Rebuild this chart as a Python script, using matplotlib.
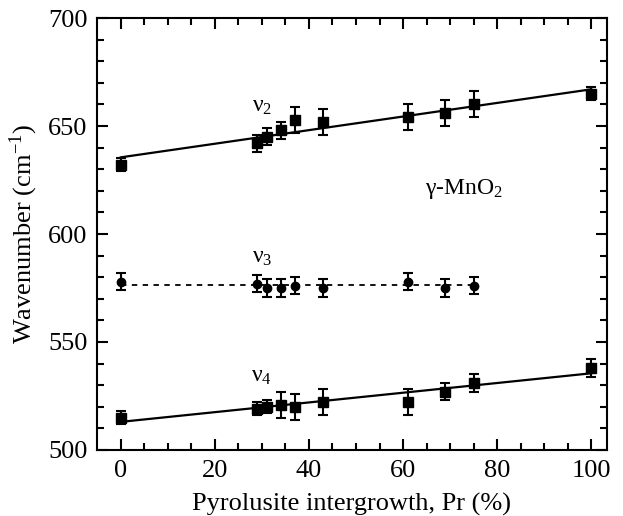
import matplotlib
matplotlib.use('Agg')
import matplotlib.pyplot as plt
import numpy as np

plt.rcParams['font.family'] = ['Liberation Serif', 'DejaVu Serif']
plt.rcParams['mathtext.fontset'] = 'stix'

# data
pr = [0, 29, 31, 34, 37, 43, 61, 69, 75, 100]
nu2 = [632, 642, 645, 648, 653, 652, 654, 656, 660, 665]
nu2_err = [3, 4, 4, 4, 6, 6, 6, 6, 6, 3]
pr3 = [0, 29, 31, 34, 37, 43, 61, 69, 75]
nu3 = [578, 577, 575, 575, 576, 575, 578, 575, 576]
nu3_err = [4, 4, 4, 4, 4, 4, 4, 4, 4]
nu4 = [515, 519, 520, 521, 520, 522, 522, 527, 531, 538]
nu4_err = [3, 3, 3, 6, 6, 6, 6, 4, 4, 4]

fit2 = (635.5, 667.0)
fit3 = 576.6
fit4 = (513.0, 535.5)

fig = plt.figure(figsize=(6.23, 5.16), dpi=100)
ax = fig.add_axes([0.156, 0.128, 0.818, 0.837])

eb = dict(fmt='none', ecolor='black', elinewidth=1.5, capsize=3.5, capthick=1.5)
ax.errorbar(pr, nu2, yerr=nu2_err, **eb)
ax.errorbar(pr3, nu3, yerr=nu3_err, **eb)
ax.errorbar(pr, nu4, yerr=nu4_err, **eb)
ax.plot(pr, nu2, 's', color='black', ms=6.5)
ax.plot(pr3, nu3, 'o', color='black', ms=6)
ax.plot(pr, nu4, 's', color='black', ms=6.5)

ax.plot([0, 100], fit2, '-', color='black', lw=1.6)
ax.plot([0, 75], [fit3, fit3], '--', color='black', lw=1.3, dashes=(3, 3))
ax.plot([0, 100], fit4, '-', color='black', lw=1.6)

ax.text(30, 659, r'$\mathregular{\nu_2}$', fontsize=17, ha='center', va='center')
ax.text(30, 589, r'$\mathregular{\nu_3}$', fontsize=17, ha='center', va='center')
ax.text(30, 534, r'$\mathregular{\nu_4}$', fontsize=17, ha='center', va='center')
ax.text(73, 621, r'$\mathregular{\gamma}$-MnO$\mathregular{_2}$', fontsize=17, ha='center', va='center')

ax.set_xlim(-5, 103.3)
ax.set_ylim(500, 700)
ax.set_xticks(np.arange(0, 101, 20))
ax.set_xticks(np.arange(0, 101, 5), minor=True)
ax.set_yticks(np.arange(500, 701, 50))
ax.set_yticks(np.arange(500, 701, 10), minor=True)
ax.tick_params(which='both', direction='in', top=True, right=True, width=1.5, labelsize=19)
ax.tick_params(which='major', length=8)
ax.tick_params(which='minor', length=5)
ax.tick_params(axis='x', pad=7)
ax.tick_params(axis='y', pad=7)
for s in ax.spines.values():
    s.set_linewidth(1.5)

ax.set_xlabel('Pyrolusite intergrowth, Pr (%)', fontsize=19, labelpad=8)
ax.set_ylabel(r'Wavenumber (cm$^{\mathregular{-1}}$)', fontsize=19, labelpad=6)

fig.savefig('out.png', dpi=100)
